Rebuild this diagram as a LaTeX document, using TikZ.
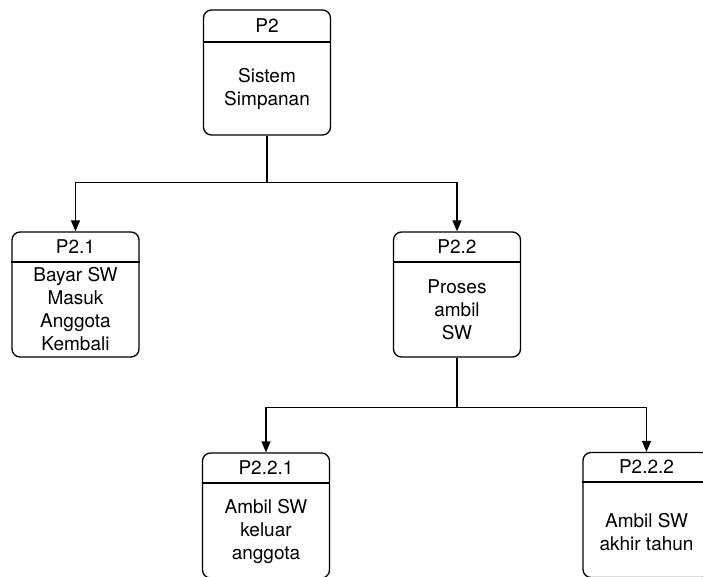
\documentclass[tikz,border=0pt]{standalone}
\usepackage{fontspec}
\setmainfont{TeX Gyre Heros}
\usetikzlibrary{arrows.meta}
\begin{document}
\begin{tikzpicture}[x=1pt,y=-1pt,
  procbox/.style={draw,line width=1.3pt,rounded corners=8pt,
    minimum width=127pt,minimum height=125pt,inner sep=0pt},
  title/.style={font=\fontsize{19}{23}\selectfont,inner sep=0pt},
  body/.style={font=\fontsize{19}{23}\selectfont,align=center,inner sep=0pt},
  divider/.style={line width=1.3pt},
  link/.style={line width=1.3pt},
  arrow/.style={link,-{Triangle[length=11pt,width=9pt]}}]
\useasboundingbox (0,0) rectangle (703,577);

% level 0
\node[procbox] (p2) at (267,72.5) {};
\draw[divider] (p2.west |- 0,42) -- (p2.east |- 0,42);
\node[title] (p2t) at (267,26) {P2};
\node[body] (p2b) at (267,89) {Sistem\\Simpanan};

% level 1
\node[procbox] (p21) at (75.5,294.5) {};
\draw[divider] (p21.west |- 0,262) -- (p21.east |- 0,262);
\node[title] (p21t) at (75.5,247) {P2.1};
\node[body] (p21b) at (75.5,309) {Bayar SW\\Masuk\\Anggota\\Kembali};

\node[procbox] (p22) at (457,294.5) {};
\draw[divider] (p22.west |- 0,262) -- (p22.east |- 0,262);
\node[title] (p22t) at (457,247) {P2.2};
\node[body] (p22b) at (457,310) {Proses\\ambil\\SW};

% level 2
\node[procbox] (p221) at (266,515.5) {};
\draw[divider] (p221.west |- 0,483) -- (p221.east |- 0,483);
\node[title] (p221t) at (266,468) {P2.2.1};
\node[body] (p221b) at (266,531) {Ambil SW\\keluar\\anggota};

\node[procbox] (p222) at (646.5,515) {};
\draw[divider] (p222.west |- 0,482) -- (p222.east |- 0,482);
\node[title] (p222t) at (646.5,467) {P2.2.2};
\node[body] (p222b) at (646.5,532) {Ambil SW\\akhir tahun};

% connectors
\draw[link] (p2.south) -- ++(0,47) coordinate (j1);
\draw[arrow] (j1) -| (p21.north);
\draw[arrow] (j1) -| (p22.north);
\draw[link] (p22.south) -- ++(0,50) coordinate (j2);
\draw[arrow] (j2) -| (p221.north);
\draw[arrow] (j2) -| (p222.north);
\end{tikzpicture}
\end{document}
